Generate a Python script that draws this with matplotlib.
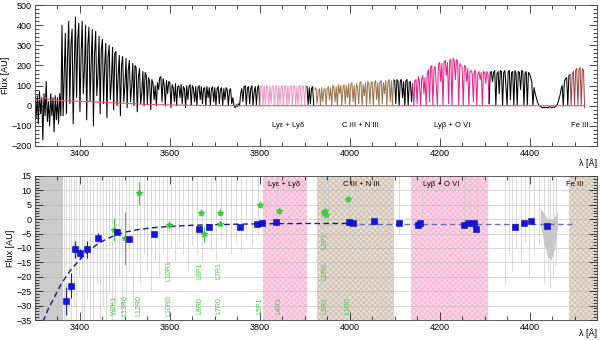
import numpy as np
import matplotlib.pyplot as plt
from matplotlib.ticker import MultipleLocator

plt.rcParams['font.family'] = ['Liberation Sans', 'DejaVu Sans']
plt.rcParams['hatch.linewidth'] = 0.4

# ---- top panel: spectrum sampled every 2.5 A from 3300 A ----
STEP = 2.5
flux_rows = [
    [30, -60, 50, -90, 70, -40, 40, -170, 60, -50, 120, -80, 20, -100, 60, -50, 40, -130, 50, -70],
    [40, -90, 60, -50, 400, -50, 150, 360, -40, 250, 420, 10, 300, 380, -90, 200, 440, 40, 330, 410],
    [-30, 250, 420, 60, 180, 400, -70, 300, 390, 20, 220, 380, -100, 260, 370, 50, 150, 345, -40, 280],
    [330, 10, 200, 310, -60, 240, 300, 30, 120, 290, -20, 260, 270, 0, 150, 250, -50, 200, 245, 20],
    [100, 235, -10, 180, 225, 20, 90, 210, 0, 200, 190, -30, 140, 185, 10, 60, 170, 0, 165, 150],
    [10, 140, 120, -20, 130, 110, 30, 100, 0, 115, 80, 140, 145, 20, 135, 100, 0, 125, 60, 120],
    [115, -10, 105, 90, 20, 110, 0, 95, 100, 40, 105, 10, 95, 85, -10, 100, 30, 95, 105, 0],
    [100, 85, 20, 95, 0, 90, 100, 30, 95, 10, 85, 90, 0, 95, 40, 90, 0, 85, 95, 20],
    [90, 0, 85, 95, 10, 80, 90, 0, 85, 30, 90, 80, 0, 75, 85, 10, 40, 0, -10, 5],
    [-5, 10, 0, 60, 85, 20, 95, 100, 0, 90, 95, 10, 85, 100, 0, 70, 95, 5, 90, 100],
    [0, 95, 100, 5, 98, 0, 100, 95, 0, 100, 10, 98, 100, 0, 95, 100, 0, 100, 5, 98],
    [100, 0, 95, 100, 0, 100, 10, 95, 100, 0, 98, 100, 0, 95, 5, 100, 98, 0, 100, 95],
    [0, 100, 95, 5, 90, 10, 85, 95, 0, 80, 90, 10, 75, 85, 0, 90, 20, 80, 85, 0],
    [85, 95, 30, 90, 0, 100, 90, 20, 95, 0, 105, 60, 100, 0, 95, 105, 10, 100, 40, 110],
    [0, 105, 115, 20, 100, 0, 110, 90, 10, 115, 120, 0, 105, 50, 115, 0, 120, 110, 10, 115],
    [120, 0, 110, 125, 30, 115, 0, 120, 125, 10, 115, 60, 125, 0, 120, 130, 20, 125, 0, 130],
    [125, 10, 130, 120, 0, 125, 130, 40, 120, 0, 125, 130, 0, 115, 120, 20, 110, 0, 125, 130],
    [10, 145, 120, 0, 130, 150, 60, 140, 0, 160, 180, 20, 190, 200, 0, 185, 195, 100, 0, 205],
    [215, 120, 210, 0, 220, 225, 150, 215, 10, 225, 230, 0, 235, 225, 130, 230, 220, 0, 210, 200],
    [190, 0, 200, 195, 120, 185, 0, 170, 175, 160, 20, 175, 170, 0, 160, 170, 130, 165, 0, 170],
    [165, 110, 170, 160, 10, 165, 170, 120, 165, 175, 0, 160, 170, 60, 175, 170, 0, 165, 175, 100],
    [0, 170, 175, 30, 165, 170, 0, 175, 160, 0, 170, 165, 80, 175, 170, 0, 160, 170, 0, 165],
    [160, 140, 120, 0, 90, 60, 40, 20, 5, 0, -5, -8, -10, -8, -10, -7, -10, -8, -5, -8],
    [-10, -6, -8, -5, 0, 10, 30, 50, 80, 100, 0, 120, 135, 140, 0, 150, 155, 0, 160, 170],
    [0, 175, 185, 0, 180, 190, 0, 185, 175, -10],
]
flux = np.concatenate([np.array(r, float) for r in flux_rows])
wave = 3300 + STEP * np.arange(len(flux))

# colour of each stretch of the spectrum (start, end, colour)
segments = [
    (3300, 3800, 'black'),
    (3800, 3905, '#f29ac4'),
    (3905, 3922, 'black'),
    (3922, 4100, '#9a7650'),
    (4100, 4140, 'black'),
    (4140, 4310, '#e8248a'),
    (4310, 4490, 'black'),
    (4490, 4523, '#a04848'),
]

cont_wave = [3300, 3310, 3322, 3332, 3345, 3444, 3556, 3667, 3760, 4520]
cont_flux = [25, 30, 40, 30, 27, 18, 6, 1, 0, 0]

top_labels = ['Ly\u03b5 + Ly\u03b4', 'C III + N III', 'Ly\u03b2 + O VI', 'Fe III']
top_label_x = [3862, 4024, 4229, 4511]

# ---- bottom panel ----
bands = [
    (3300, 3362, 'gray'),
    (3807, 3904, 'pink'),
    (3927, 4098, 'brown'),
    (4136, 4307, 'pink'),
    (4487, 4550, 'brown'),
]
band_labels = ['Ly\u03b5 + Ly\u03b4', 'C III + N III', 'Ly\u03b2 + O VI', 'Fe III']
band_label_x = [3855, 4027, 4204, 4500]

blue_x = [3370, 3381, 3388, 3400, 3416, 3441, 3483, 3509, 3564, 3665, 3687, 3756, 3794, 3804,
          3837, 3998, 4007, 4054, 4109, 4152, 4156, 4254, 4262, 4276, 4280, 4367, 4387, 4404, 4438]
blue_y = [-28.3, -23.1, -10.5, -11.8, -10.4, -6.4, -4.3, -7.0, -5.3, -3.5, -2.6, -2.6, -1.6, -1.2,
          -1.1, -1.1, -1.4, -0.5, -1.2, -2.0, -1.2, -1.9, -1.2, -1.2, -3.5, -2.6, -1.2, -0.5, -2.2]
blue_err = [4.9, 4.3, 2.9, 1.5, 3.0, 1.5, 1.0, 1.0, 0.8, 0.8, 0.6, 0.6, 0.5, 0.5,
            0.5, 0.5, 0.5, 0.5, 0.5, 0.5, 0.5, 0.5, 0.5, 0.5, 0.6, 0.5, 0.5, 0.5, 0.6]

green_x = [3476, 3500, 3531, 3599, 3670, 3676, 3712, 3712, 3800, 3843, 3942, 3945, 3948, 3996]
green_y = [-3.7, -6.6, 9.0, -2.0, 2.3, -5.0, 2.3, -1.8, 5.0, 2.7, 2.0, 2.8, 1.5, 6.9]
green_err = [4.0, 9.2, 4.0, 1.5, 1.2, 2.8, 1.2, 0.6, 1.2, 1.0, 0.5, 0.5, 0.5, 0.8]

label_names = ['W2K1', 'L13R0', 'L12R0', 'L10R0', 'L10R1', 'L8R0', 'L8P1', 'L7R0', 'L7R1',
               'L5P1', 'L4R1', 'L2R1', 'L2R0', 'L2P1', 'L1R0']
label_x = [3476, 3500, 3530, 3598, 3598, 3666, 3666, 3710, 3710, 3800, 3843, 3944, 3944, 3944, 3995]
label_y = [-30, -30, -30, -30, -18, -30, -18, -30, -18, -30, -30, -30, -18, -7.5, -30]

fit_x = [3318, 3330, 3340, 3360, 3380, 3400, 3420, 3440, 3460, 3480, 3500, 3530, 3560, 3600, 3650,
         3700, 3800, 3900, 4000]
fit_y = [-35.5, -31, -28, -22, -17.5, -14, -11, -8.5, -6.8, -5.5, -4.5, -3.6, -3.0, -2.5, -2.1,
         -1.9, -1.6, -1.5, -1.5]
fit2_x = [4000, 4500]
fit2_y = [-1.5, -1.5]

gray_x = [3365, 3370, 3375, 3381, 3386, 3392, 3398, 3404, 3410, 3416, 3423, 3430, 3437, 3444, 3451,
          3458, 3465, 3472, 3479, 3486, 3494, 3502, 3510, 3518, 3526, 3534, 3542, 3550, 3558, 3566,
          3575, 3584, 3593, 3602, 3611, 3620, 3630, 3640, 3650, 3660, 3671, 3681, 3692, 3702, 3713,
          3724, 3735, 3746, 3758, 3770, 3782, 3795, 3812, 3838, 3936, 3943, 3951, 3999, 4110, 4160,
          4254, 4268, 4284, 4346, 4354, 4362, 4370, 4380, 4390, 4398, 4410, 4420, 4432, 4440, 4446,
          4452, 4458]
gray_bottom = [-35, -35, -25, -35, -30, -35, -20, -35, -35, -28, -35, -35, -22, -35, -30,
               -35, -25, -35, -33, -20, -35, -28, -18, -30, -15, -22, -12, -18, -25, -14,
               -20, -12, -16, -10, -14, -8, -12, -18, -9, -12, -15, -8, -11, -14, -7,
               -10, -12, -8, -11, -7, -9, -6, -5, -4, -3, -4, -3, -3, -5, -5,
               -3, -4, -5, -22, -12, -18, -10, -15, -8, -20, -12, -9, -22, -18, -24,
               -20, -16]
fan_x = [4424, 4432, 4440, 4448, 4456, 4462]
fan_top = [4, 2, 0, 0, 1, 3]
fan_bot = [-2, -8, -13, -14, -10, -3]

fig = plt.figure(figsize=(6, 3.4), dpi=100)
ax1 = fig.add_axes([0.0583, 0.5706, 0.9367, 0.4144])
ax2 = fig.add_axes([0.0583, 0.0588, 0.9367, 0.4236])

# top panel
for lo, hi, col in segments:
    m = (wave >= lo) & (wave <= hi)
    ax1.plot(wave[m], flux[m], color=col, lw=0.75)
ax1.plot(cont_wave, cont_flux, color='#e25c6e', lw=0.8)
for t, x in zip(top_labels, top_label_x):
    ax1.text(x, -98, t, fontsize=5.5, ha='center', va='center')
ax1.set_xlim(3300, 4550)
ax1.set_ylim(-200, 500)
ax1.set_ylabel('Flux [AU]', fontsize=6.5, labelpad=1)

# bottom panel
band_style = {
    'gray': dict(facecolor='#cbcbcb', edgecolor='none', hatch=None),
    'pink': dict(facecolor='#fbd4e7', edgecolor='#f4a9cd', hatch='xxxxxx'),
    'brown': dict(facecolor='#e6ded5', edgecolor='#c4b3a2', hatch='xxxxxx'),
}
for lo, hi, kind in bands:
    st = band_style[kind]
    ax2.axvspan(lo, hi, facecolor=st['facecolor'], edgecolor=st['edgecolor'], hatch=st['hatch'],
                lw=0, zorder=0)
for yv in range(-30, 15, 5):
    ax2.axhline(yv, color='#a8a8a8', lw=0.5, ls='-', alpha=0.6, zorder=0.5)
ax2.vlines(gray_x, gray_bottom, 15, color='#c9c9c9', lw=0.6, alpha=0.8, zorder=1)
ax2.fill_between(fan_x, fan_bot, fan_top, color='#c8c8c8', lw=0, zorder=1)

ax2.plot(fit_x, fit_y, color='#1c1c6e', lw=1.0, ls=(0, (4, 2.5)), zorder=3)
ax2.plot(fit2_x, fit2_y, color='#6f6fae', lw=1.0, ls=(0, (4, 2.5)), zorder=3)

ax2.errorbar(green_x, green_y, yerr=green_err, fmt='*', color='#3fc93f', ms=4, lw=0.8,
             capsize=0, zorder=4)
ax2.errorbar(blue_x, blue_y, yerr=blue_err, fmt='s', color='#1414e6', mec='#0a0a90', ms=4,
             mew=0.4, ecolor='#1414e6', lw=0.8, capsize=0, zorder=5)
for t, x, y in zip(label_names, label_x, label_y):
    ax2.text(x, y, t, rotation=90, fontsize=5, color='#3fc93f', ha='center', va='center', zorder=6)
for t, x in zip(band_labels, band_label_x):
    ax2.text(x, 12, t, fontsize=5.5, ha='center', va='center', zorder=6)

ax2.set_xlim(3300, 4550)
ax2.set_ylim(-35, 15)
ax2.set_ylabel('Flux [AU]', fontsize=6.5, labelpad=1)

for ax, ymaj, ymin, lab_y in [(ax1, 100, 20, -0.09), (ax2, 5, 1, -0.06)]:
    ax.xaxis.set_major_locator(MultipleLocator(200))
    ax.xaxis.set_minor_locator(MultipleLocator(50))
    ax.yaxis.set_major_locator(MultipleLocator(ymaj))
    ax.yaxis.set_minor_locator(MultipleLocator(ymin))
    ax.tick_params(which='both', direction='in', top=True, right=True, labelsize=6.5, pad=2.5)
    ax.tick_params(which='major', length=6, width=0.5)
    ax.tick_params(which='minor', length=3, width=0.5)
    for s in ax.spines.values():
        s.set_linewidth(0.6)
        s.set_color('#444444')
    ax.text(1.0, lab_y, '\u03bb [\u00c5]', transform=ax.transAxes, fontsize=6.5, ha='right', va='top')

fig.savefig('out.png', dpi=100)
